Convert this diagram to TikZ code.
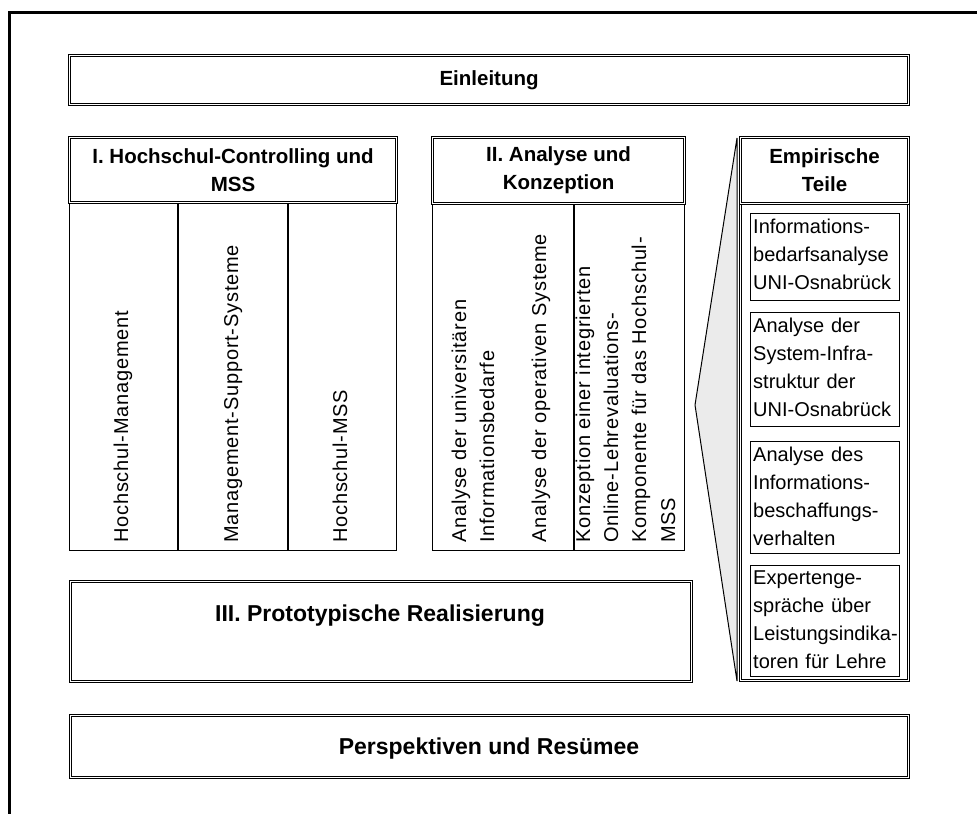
\documentclass[tikz,border=0pt]{standalone}
\usepackage{fontspec}
\setmainfont{Liberation Sans}
\newfontfamily\spacedfont[LetterSpace=4]{Liberation Sans}
\begin{document}
\begin{tikzpicture}[x=1pt,y=-1pt,
  frameline/.style={line width=3pt},
  dbox/.style={draw=black, double=white, double distance=1.5pt, line width=1.1pt, inner sep=0pt, anchor=north west},
  sbox/.style={draw=black, line width=1.3pt, inner sep=0pt, anchor=north west},
  divider/.style={line width=1.3pt},
  head/.style={font=\bfseries\fontsize{20.5}{28}\selectfont, align=center},
  bighead/.style={font=\bfseries\fontsize{23}{28}\selectfont},
  vtext/.style={font=\spacedfont\fontsize{20}{28}\selectfont, rotate=90, anchor=base west, inner sep=0pt},
  etext/.style={font=\fontsize{20}{28}\selectfont, align=left, anchor=north west, inner sep=0pt, text width=146pt},
  wedgefill/.style={draw=black, line width=1pt, fill=black!8}
]
\useasboundingbox (0,0) rectangle (977,814);

% page frame (top and left edge)
\coordinate (fr) at (977,12);
\coordinate (fc) at (9,12);
\coordinate (fb) at (9,814);
\draw[frameline] (fr) -- (fc) -- (fb);

% introduction
\node[dbox, minimum width=839pt, minimum height=49pt, head] (ein) at (69,55) {Einleitung};

% part I
\node[sbox, minimum width=327pt, minimum height=348pt] (c1) at (69,202) {};
\coordinate (c1a) at (178,202);
\coordinate (c1b) at (178,550);
\coordinate (c1c) at (288,202);
\coordinate (c1d) at (288,550);
\draw[divider] (c1a) -- (c1b);
\draw[divider] (c1c) -- (c1d);
\node[dbox, fill=white, minimum width=327pt, minimum height=65pt, head] (h1) at (69,137) {I. Hochschul-Controlling und\\MSS};
\node[vtext] (t11) at (128,543) {Hochschul-Management};
\node[vtext] (t12) at (238,543) {Management-Support-Systeme};
\node[vtext] (t13) at (347,543) {Hochschul-MSS};

% part II
\node[sbox, minimum width=252pt, minimum height=347pt] (c2) at (432,203) {};
\coordinate (c2a) at (574,203);
\coordinate (c2b) at (574,550);
\draw[divider] (c2a) -- (c2b);
\node[dbox, fill=white, minimum width=252pt, minimum height=66pt, head] (h2) at (432,137) {II. Analyse und\\Konzeption};
\node[vtext] (t21) at (466,543) {Analyse der universitären};
\node[vtext] (t22) at (494,543) {Informationsbedarfe};
\node[vtext] (t23) at (546,543) {Analyse der operativen Systeme};
\node[vtext] (t24) at (590,543) {Konzeption einer integrierten};
\node[vtext] (t25) at (618,543) {Online-Lehrevaluations-};
\node[vtext] (t26) at (646,543) {Komponente für das Hochschul-};
\node[vtext] (t27) at (675,543) {MSS};

% wedge linking part II to the empirical parts
\coordinate (wt) at (737,138);
\coordinate (wl) at (695,405);
\coordinate (wb) at (737,681);
\draw[wedgefill] (wt) -- (wl) -- (wb) -- cycle;

% empirical parts
\node[dbox, fill=white, minimum width=168pt, minimum height=477pt] (c3) at (740,203) {};
\node[dbox, fill=white, minimum width=168pt, minimum height=66pt, head] (h3) at (740,137) {Empirische\\Teile};
\node[sbox, minimum width=149pt, minimum height=87pt] (e1) at (750,213) {};
\node[sbox, minimum width=149pt, minimum height=114pt] (e2) at (750,312) {};
\node[sbox, minimum width=149pt, minimum height=112pt] (e3) at (750,441) {};
\node[sbox, minimum width=149pt, minimum height=111pt] (e4) at (750,565) {};
\node[etext] (e1t) at (753,218.5) {Informations-\\bedarfsanalyse\\UNI-Osnabrück};
\node[etext] (e2t) at (753,317.5) {Analyse der\\System-Infra-\\struktur der\\UNI-Osnabrück};
\node[etext] (e3t) at (753,446.5) {Analyse des\\Informations-\\beschaffungs-\\verhalten};
\node[etext] (e4t) at (753,570.5) {Expertenge-\\spräche über\\Leistungsindika-\\toren für Lehre};

% part III
\node[dbox, minimum width=621pt, minimum height=100pt] (p3) at (70,581) {};
\node[bighead, anchor=base] (p3t) at (380,621) {III. Prototypische Realisierung};

% outlook
\node[dbox, minimum width=838pt, minimum height=62pt] (per) at (70,715) {};
\node[bighead, anchor=base] (pert) at (489,754) {Perspektiven und Resümee};
\end{tikzpicture}
\end{document}
